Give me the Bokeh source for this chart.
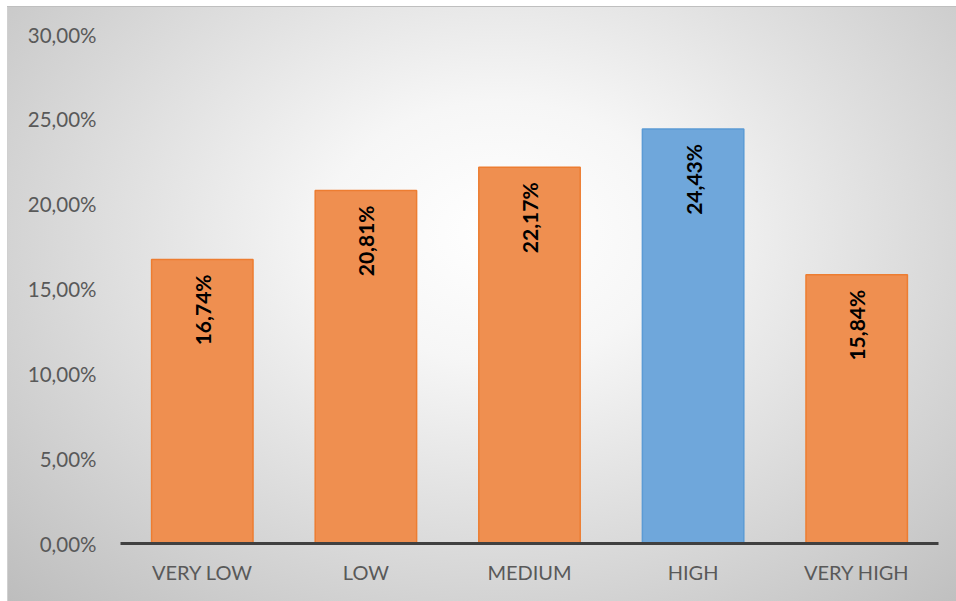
import math
from bokeh.plotting import figure
from bokeh.models import ColumnDataSource, Range1d, FixedTicker
from bokeh.core.properties import value
from bokeh.embed import file_html
from bokeh.resources import INLINE

categories = ["VERY LOW", "LOW", "MEDIUM", "HIGH", "VERY HIGH"]
shares = [16.74, 20.81, 22.17, 24.43, 15.84]
highlight = "HIGH"
y_ticks = [0, 5, 10, 15, 20, 25, 30]
y_tick_labels = ["0,00%", "5,00%", "10,00%", "15,00%", "20,00%", "25,00%", "30,00%"]

fills = ["#6FA7DB" if c == highlight else "#EF8F50" for c in categories]
lines = ["#5B9BD5" if c == highlight else "#ED7D31" for c in categories]
labels = [("%.2f" % v).replace(".", ",") + "%" for v in shares]

src = ColumnDataSource(dict(cat=categories, val=shares, fill=fills, line=lines, lab=labels))

p = figure(x_range=categories, y_range=Range1d(0, 30), width=949, height=595,
           output_backend="svg", toolbar_location=None,
           min_border_left=113, min_border_right=18, min_border_top=28, min_border_bottom=58)
p.margin = (6, 0, 0, 7)
p.x_range.range_padding = 0
p.styles = {
    "background": "radial-gradient(ellipse farthest-corner at 52% 38%, #ffffff 0%, #f6f6f6 25%, #bdbdbd 100%)",
    "box-shadow": "inset 0 1px 0 #bfbfbf, inset 1px 0 0 #d0d0d0",
}
p.background_fill_alpha = 0
p.border_fill_alpha = 0
p.outline_line_color = None
p.xgrid.grid_line_color = None
p.ygrid.grid_line_color = None

p.vbar(x="cat", top="val", width=0.62, source=src, fill_color="fill", line_color="line", line_width=1.5)

p.text(x="cat", y="val", text="lab", source=src, angle=math.pi / 2,
       text_align="right", text_baseline="middle", y_offset=15,
       text_font=value("Lato"), text_font_style="bold", text_font_size="21px", text_color="#000000")

ya = p.yaxis[0]
ya.ticker = FixedTicker(ticks=y_ticks)
ya.major_label_overrides = {t: l for t, l in zip(y_ticks, y_tick_labels)}
ya.axis_line_color = None
ya.major_tick_line_color = None
ya.minor_tick_line_color = None
ya.major_label_text_font = "Lato"
ya.major_label_text_font_size = "20.5px"
ya.major_label_text_color = "#595959"
ya.major_label_standoff = 18

xa = p.xaxis[0]
xa.axis_line_color = "#404040"
xa.axis_line_width = 3
xa.major_tick_line_color = None
xa.minor_tick_line_color = None
xa.major_label_text_font = "Lato"
xa.major_label_text_font_size = "20px"
xa.major_label_text_color = "#595959"
xa.major_label_standoff = 10

open("out.html", "w").write(file_html(p, INLINE))
